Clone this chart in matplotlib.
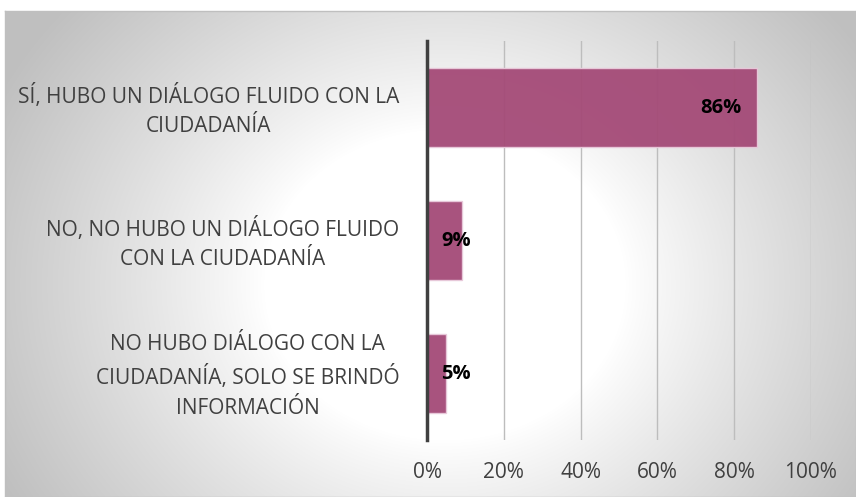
import numpy as np
import matplotlib.pyplot as plt
import matplotlib.transforms as mtransforms

# Categories (top to bottom) and shares
categorias = [
    "SÍ, HUBO UN DIÁLOGO FLUIDO CON LA\nCIUDADANÍA",
    "NO, NO HUBO UN DIÁLOGO FLUIDO\nCON LA CIUDADANÍA",
    "NO HUBO DIÁLOGO CON LA\nCIUDADANÍA, SOLO SE BRINDÓ\nINFORMACIÓN",
]
valores = [0.86, 0.09, 0.05]
etiquetas = ["86%", "9%", "5%"]
ticks_x = [0, 0.2, 0.4, 0.6, 0.8, 1.0]
ticks_txt = ["0%", "20%", "40%", "60%", "80%", "100%"]

plt.rcParams['font.family'] = ['Open Sans', 'DejaVu Sans']

W, H = 856, 497
fig = plt.figure(figsize=(W / 100, H / 100), dpi=100)
fig.patch.set_facecolor('white')

# Background panel with radial gradient (computed in pixel space)
x0, ytop = 5, 11
bg = fig.add_axes([x0 / W, 0, 1 - x0 / W, 1 - ytop / H], zorder=0)
px = np.arange(x0, W) + 0.5
py = np.arange(ytop, H) + 0.5
gx, gy = np.meshgrid(px, py)
r = np.sqrt(((gx - 445) / 430) ** 2 + ((gy - 285) / 370) ** 2)
t = np.clip((r - 0.42) / 0.58, 0, None) ** 0.9
shade = np.clip(1.0 - 0.2 * t, 0.75, 1)
bg.imshow(np.dstack([shade] * 3), extent=[0, 1, 0, 1], aspect='auto', origin='upper')
bg.set_xticks([])
bg.set_yticks([])
for s in bg.spines.values():
    s.set_color('#BFBFBF')
    s.set_linewidth(1.0)

# Main chart
ax = fig.add_axes([427 / W, 1 - 440 / H, (811 - 427) / W, (440 - 41) / H], zorder=1)
ax.patch.set_alpha(0)
y = np.arange(len(categorias))
ax.barh(y, valores, height=0.6, color='#A44A77', alpha=0.95,
        edgecolor='#E9CADB', linewidth=1.0, zorder=3)
ax.set_ylim(len(categorias) - 0.5, -0.5)
ax.set_xlim(0, 1.0)

ax.set_xticks(ticks_x)
ax.set_xticklabels(ticks_txt, fontsize=15, color='#404040')
ax.set_yticks(y)
ax.set_yticklabels(categorias, fontsize=15, color='#404040', linespacing=1.52)
ax.tick_params(axis='x', length=0, pad=16)
ax.tick_params(axis='y', length=0, pad=20)
# nudge category labels down a few pixels
nudge = mtransforms.ScaledTranslation(0, -0.03, fig.dpi_scale_trans)
for lbl in ax.get_yticklabels():
    lbl.set_multialignment('center')
    lbl.set_verticalalignment('center')
    lbl.set_transform(lbl.get_transform() + nudge)

ax.grid(axis='x', color='#BDBDBD', linewidth=1.0, zorder=1)
for side in ['top', 'right', 'bottom']:
    ax.spines[side].set_visible(False)
ax.spines['left'].set_color('#404040')
ax.spines['left'].set_linewidth(2.5)
ax.spines['left'].set_zorder(4)

for yi, v, txt in zip(y, valores, etiquetas):
    ax.text(max(v - 0.042, 0.115), yi, txt, ha='right', va='center',
            fontsize=14.5, fontweight='bold', color='black', zorder=5)

fig.savefig('out.png', dpi=100)
